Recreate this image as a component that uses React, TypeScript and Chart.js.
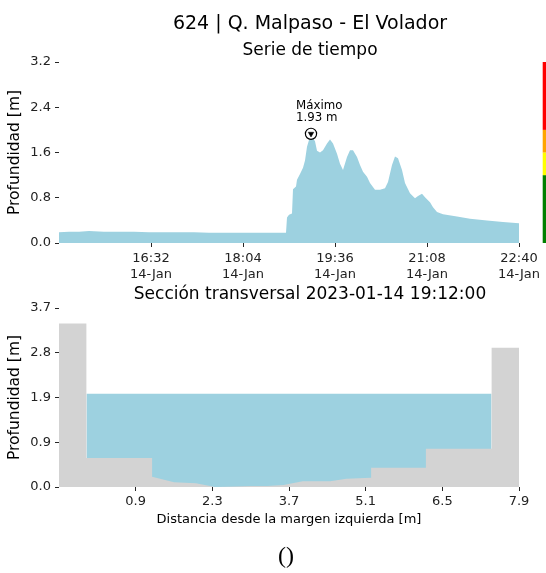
import React, { useEffect, useRef } from 'react';
import { Chart, registerables } from 'chart.js';

Chart.register(...registerables);

const FONT = 'DejaVu Sans';

// ---------- text ----------
const stationTitle = '624 | Q. Malpaso - El Volador';
const seriesTitle = 'Serie de tiempo';
const sectionTitle = 'Sección transversal 2023-01-14 19:12:00';
const depthAxisTitle = 'Profundidad [m]';
const distanceAxisTitle = 'Distancia desde la margen izquierda [m]';
const footerText = '()';
const maxLabel = 'Máximo';

// ---------- time series ----------
const seriesTimes = [
  '15:00', '15:10', '15:20', '15:30', '15:45', '16:00', '16:15', '16:30', '16:45', '17:00',
  '17:15', '17:30', '17:45', '18:00', '18:15', '18:30', '18:47', '18:48', '18:50', '18:53',
  '18:54', '18:57', '18:58', '19:01', '19:04', '19:06', '19:08', '19:10', '19:12', '19:14',
  '19:16', '19:18', '19:21', '19:24', '19:28', '19:31', '19:34', '19:38', '19:41', '19:44',
  '19:48', '19:51', '19:54', '19:58', '20:01', '20:04', '20:08', '20:11', '20:16', '20:21',
  '20:26', '20:29', '20:33', '20:36', '20:39', '20:43', '20:46', '20:51', '20:56', '20:59',
  '21:03', '21:06', '21:11', '21:14', '21:18', '21:24', '21:38', '21:51', '22:08', '22:24',
  '22:40',
];
const seriesDepths = [
  0.19, 0.20, 0.20, 0.21, 0.20, 0.20, 0.20, 0.19, 0.19, 0.19,
  0.19, 0.18, 0.18, 0.18, 0.18, 0.18, 0.18, 0.45, 0.50, 0.52,
  0.95, 1.00, 1.12, 1.22, 1.33, 1.46, 1.70, 1.82, 1.93, 1.85,
  1.80, 1.63, 1.60, 1.64, 1.76, 1.83, 1.76, 1.58, 1.40, 1.29,
  1.52, 1.64, 1.64, 1.52, 1.38, 1.26, 1.17, 1.06, 0.94, 0.94,
  0.97, 1.08, 1.38, 1.53, 1.50, 1.29, 1.06, 0.88, 0.79, 0.83,
  0.87, 0.81, 0.72, 0.63, 0.55, 0.51, 0.47, 0.43, 0.40, 0.37,
  0.35,
];
const maxTime = '19:12';
const maxDepth = 1.93;
const timeAxisStart = '15:00';
const timeAxisEnd = '22:40';
const timeTickLabels = ['16:32', '18:04', '19:36', '21:08', '22:40'];
const dateTickLabel = '14-Jan';
const depthTicks = [0, 0.8, 1.6, 2.4, 3.2];
const alertLevels = [0, 1.2, 1.6, 2.0, 3.2];
const alertColors = ['#008000', '#ffff00', '#ffa500', '#ff0000'];

// ---------- cross section ----------
const groundX = [-0.5, 0, 0, 1.2, 1.2, 1.6, 2.0, 2.35, 2.7, 3.0, 3.3, 3.6, 3.95, 4.45, 4.75, 5.2, 5.2, 6.2, 6.2, 7.4, 7.4, 7.9];
const groundY = [3.38, 3.38, 0.6, 0.6, 0.21, 0.1, 0.08, 0.0, 0.01, 0.02, 0.02, 0.04, 0.12, 0.12, 0.17, 0.19, 0.4, 0.4, 0.79, 0.79, 2.88, 2.88];
const waterX = [0, 7.4];
const waterLevel = 1.93;
const sectionXMin = -0.5;
const sectionXMax = 7.9;
const sectionXTicks = [0.9, 2.3, 3.7, 5.1, 6.5, 7.9];
const sectionYTicks = [0, 0.925, 1.85, 2.775, 3.7];
const sectionYTickLabels = ['0.0', '0.9', '1.9', '2.8', '3.7'];

const WATER = 'rgb(157,209,224)';
const GROUND = '#d3d3d3';

const toMin = (s: string) => {
  const [h, m] = s.split(':').map(Number);
  return h * 60 + m;
};

const tickFont = { family: FONT, size: 13, lineHeight: 1.25 };
const gridOpts = {
  display: true,
  drawOnChartArea: false,
  drawTicks: true,
  tickLength: 4,
  color: '#262626',
  lineWidth: 1,
};

const colorBarPlugin = {
  id: 'colorBar',
  afterDraw(chart: any) {
    const { ctx, chartArea, scales } = chart;
    const y = scales.y;
    const x0 = chartArea.right + 23.7;
    ctx.save();
    for (let i = 0; i < alertColors.length; i++) {
      const top = y.getPixelForValue(alertLevels[i + 1]);
      const bot = y.getPixelForValue(alertLevels[i]);
      ctx.fillStyle = alertColors[i];
      ctx.fillRect(x0, top, 20, bot - top);
    }
    ctx.restore();
  },
};

const maxLabelPlugin = {
  id: 'maxLabel',
  afterDatasetsDraw(chart: any) {
    const { ctx, scales } = chart;
    const px = scales.x.getPixelForValue(toMin(maxTime));
    const py = scales.y.getPixelForValue(maxDepth);
    ctx.save();
    ctx.font = `11.8px ${FONT}`;
    ctx.fillStyle = '#000';
    ctx.textAlign = 'left';
    ctx.textBaseline = 'alphabetic';
    ctx.fillText(maxLabel, px - 15, py - 24.8);
    ctx.fillText(`${maxDepth.toFixed(2)} m`, px - 15, py - 12.4);
    ctx.restore();
  },
};

export default function App() {
  const topRef = useRef<HTMLCanvasElement>(null);
  const botRef = useRef<HTMLCanvasElement>(null);

  useEffect(() => {
    Chart.defaults.font.family = FONT;
    Chart.defaults.color = '#000';

    const seriesData = seriesTimes.map((t, i) => ({ x: toMin(t), y: seriesDepths[i] }));
    const maxPoint = [{ x: toMin(maxTime), y: maxDepth }];

    const top = new Chart(topRef.current as HTMLCanvasElement, {
      type: 'line',
      data: {
        datasets: [
          {
            data: maxPoint,
            showLine: false,
            pointStyle: 'triangle',
            pointRotation: 180,
            pointRadius: 3.2,
            pointBackgroundColor: '#000',
            pointBorderColor: '#000',
            pointBorderWidth: 0.5,
            order: 0,
          } as any,
          {
            data: maxPoint,
            showLine: false,
            pointStyle: 'circle',
            pointRadius: 5.6,
            pointBackgroundColor: '#fff',
            pointBorderColor: '#000',
            pointBorderWidth: 1.2,
            order: 1,
          } as any,
          {
            data: seriesData,
            fill: 'origin',
            backgroundColor: WATER,
            borderColor: 'rgba(0,0,0,0)',
            borderWidth: 0,
            pointRadius: 0,
            tension: 0,
            order: 2,
          } as any,
        ],
      },
      options: {
        responsive: false,
        animation: false,
        devicePixelRatio: 1,
        layout: { padding: { left: 0, right: 27, top: 62, bottom: 0 } },
        plugins: { legend: { display: false }, tooltip: { enabled: false }, title: { display: false } },
        scales: {
          x: {
            type: 'linear',
            min: toMin(timeAxisStart),
            max: toMin(timeAxisEnd),
            afterBuildTicks: (scale: any) => {
              scale.ticks = timeTickLabels.map((l) => ({ value: toMin(l) }));
            },
            afterFit: (scale: any) => {
              scale.height = 47;
            },
            ticks: {
              autoSkip: false,
              maxRotation: 0,
              minRotation: 0,
              padding: 3,
              font: tickFont,
              color: '#222',
              callback: (_v: any, i: number) => [timeTickLabels[i], dateTickLabel],
            },
            grid: gridOpts,
            border: { display: false },
          },
          y: {
            type: 'linear',
            min: depthTicks[0],
            max: depthTicks[depthTicks.length - 1],
            afterBuildTicks: (scale: any) => {
              scale.ticks = depthTicks.map((v) => ({ value: v }));
            },
            afterFit: (scale: any) => {
              scale.width = 59;
            },
            ticks: {
              padding: 4,
              font: tickFont,
              color: '#222',
              callback: (v: any) => Number(v).toFixed(1),
            },
            grid: gridOpts,
            border: { display: false },
            title: {
              display: true,
              text: depthAxisTitle,
              font: { family: FONT, size: 15.5, lineHeight: 1.2 },
              color: '#000',
              padding: { top: 6, bottom: 0 },
            },
          },
        },
      } as any,
      plugins: [colorBarPlugin, maxLabelPlugin],
    });

    const groundData = groundX.map((x, i) => ({ x, y: groundY[i] }));
    const waterData = waterX.map((x) => ({ x, y: waterLevel }));

    const bot = new Chart(botRef.current as HTMLCanvasElement, {
      type: 'line',
      data: {
        datasets: [
          {
            data: groundData,
            fill: 'origin',
            backgroundColor: GROUND,
            borderColor: 'rgba(0,0,0,0)',
            borderWidth: 0,
            pointRadius: 0,
            tension: 0,
            order: 0,
          } as any,
          {
            data: waterData,
            fill: 'origin',
            backgroundColor: WATER,
            borderColor: 'rgba(0,0,0,0)',
            borderWidth: 0,
            pointRadius: 0,
            tension: 0,
            order: 1,
          } as any,
        ],
      },
      options: {
        responsive: false,
        animation: false,
        devicePixelRatio: 1,
        layout: { padding: { left: 0, right: 27, top: 28, bottom: 0 } },
        plugins: { legend: { display: false }, tooltip: { enabled: false }, title: { display: false } },
        scales: {
          x: {
            type: 'linear',
            min: sectionXMin,
            max: sectionXMax,
            afterBuildTicks: (scale: any) => {
              scale.ticks = sectionXTicks.map((v) => ({ value: v }));
            },
            afterFit: (scale: any) => {
              scale.height = 53;
            },
            ticks: {
              autoSkip: false,
              maxRotation: 0,
              minRotation: 0,
              padding: 2,
              font: tickFont,
              color: '#222',
              callback: (v: any) => Number(v).toFixed(1),
            },
            grid: gridOpts,
            border: { display: false },
            title: {
              display: true,
              text: distanceAxisTitle,
              font: { family: FONT, size: 13, lineHeight: 1.2 },
              color: '#000',
              padding: { top: 0, bottom: 13 },
            },
          },
          y: {
            type: 'linear',
            min: sectionYTicks[0],
            max: sectionYTicks[sectionYTicks.length - 1],
            afterBuildTicks: (scale: any) => {
              scale.ticks = sectionYTicks.map((v) => ({ value: v }));
            },
            afterFit: (scale: any) => {
              scale.width = 59;
            },
            ticks: {
              padding: 4,
              font: tickFont,
              color: '#222',
              callback: (_v: any, i: number) => sectionYTickLabels[i],
            },
            grid: gridOpts,
            border: { display: false },
            title: {
              display: true,
              text: depthAxisTitle,
              font: { family: FONT, size: 15.5, lineHeight: 1.2 },
              color: '#000',
              padding: { top: 6, bottom: 0 },
            },
          },
        },
      } as any,
    });

    return () => {
      top.destroy();
      bot.destroy();
    };
  }, []);

  const titleStyle = (topPx: number, size: number): React.CSSProperties => ({
    position: 'absolute',
    left: 0,
    width: 620,
    top: topPx,
    textAlign: 'center',
    fontFamily: FONT,
    fontSize: size,
    lineHeight: `${size}px`,
    color: '#000',
    whiteSpace: 'nowrap',
  });

  return (
    <div
      style={{
        position: 'fixed',
        left: 0,
        top: 0,
        width: 546,
        height: 573,
        background: '#fff',
        overflow: 'hidden',
      }}
    >
      <canvas ref={topRef} width={546} height={290} style={{ position: 'absolute', left: 0, top: 0 }} />
      <canvas ref={botRef} width={546} height={260} style={{ position: 'absolute', left: 0, top: 280 }} />
      <div style={titleStyle(13.2, 19)}>{stationTitle}</div>
      <div style={titleStyle(40.6, 17)}>{seriesTitle}</div>
      <div style={titleStyle(285.3, 17)}>{sectionTitle}</div>
      <div
        style={{
          position: 'absolute',
          left: 0,
          width: 572,
          top: 543.2,
          textAlign: 'center',
          fontFamily: '"Liberation Serif", serif',
          fontSize: 24,
          lineHeight: '24px',
          color: '#000',
        }}
      >
        {footerText}
      </div>
    </div>
  );
}
